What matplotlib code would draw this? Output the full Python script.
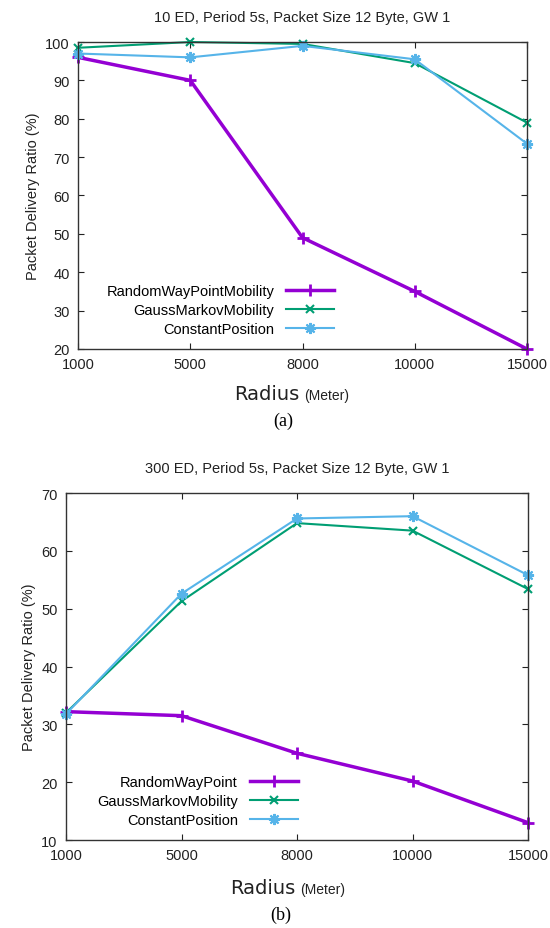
import matplotlib.pyplot as plt

plt.rcParams['font.family'] = ['Liberation Sans', 'DejaVu Sans']

radius = ['1000', '5000', '8000', '10000', '15000']

# 10 ED
rwp_a = [96, 90, 49, 35, 20]
gauss_a = [98.5, 100, 99.5, 94.5, 79]
const_a = [97, 96, 99, 95.5, 73.5]

# 300 ED
rwp_b = [32.2, 31.5, 25, 20.2, 13]
gauss_b = [32.0, 51.3, 64.8, 63.5, 53.4]
const_b = [31.8, 52.6, 65.6, 66.0, 55.8]

purple = '#9400D3'
green = '#009E73'
blue = '#56B4E9'
star = (8, 2, 0)

fig = plt.figure(figsize=(5.5, 9.29), dpi=100)
ax1 = fig.add_axes([0.142, 0.6233, 0.816, 0.3304])
ax2 = fig.add_axes([0.12, 0.0947, 0.84, 0.3735])


def style(ax, names, ylim, yticks, title, legend_anchor):
    x = range(len(radius))
    ax.set_xlim(0, len(radius) - 1)
    ax.set_ylim(*ylim)
    ax.set_yticks(yticks)
    ax.set_xticks(list(x))
    ax.set_xticklabels(radius)
    ax.tick_params(direction='in', top=True, right=True, labelsize=10.5,
                   length=4, colors='#222222', pad=6)
    for s in ax.spines.values():
        s.set_color('#333333')
        s.set_linewidth(1.0)
    ax.set_ylabel('Packet Delivery Ratio (%)', fontsize=10.5, color='#222222')
    ax.set_title(title, fontsize=10.5, color='#222222', pad=15)
    ax.legend(names, loc='lower right', bbox_to_anchor=legend_anchor,
              frameon=False, markerfirst=False, fontsize=10.5,
              handlelength=3.3, labelspacing=0.35, handletextpad=0.8)


x = range(len(radius))
ax1.plot(x, rwp_a, color=purple, lw=2.5, marker='+', ms=8, mew=2, clip_on=False)
ax1.plot(x, gauss_a, color=green, lw=1.5, marker='x', ms=6, mew=1.5, clip_on=False)
ax1.plot(x, const_a, color=blue, lw=1.5, marker=star, ms=8, mew=1.5, clip_on=False)
style(ax1, ['RandomWayPointMobility', 'GaussMarkovMobility', 'ConstantPosition'],
      (20, 100), range(20, 101, 10),
      '10 ED, Period 5s, Packet Size 12 Byte, GW 1', (0.60, 0.0))

ax2.plot(x, rwp_b, color=purple, lw=2.5, marker='+', ms=8, mew=2, clip_on=False)
ax2.plot(x, gauss_b, color=green, lw=1.5, marker='x', ms=6, mew=1.5, clip_on=False)
ax2.plot(x, const_b, color=blue, lw=1.5, marker=star, ms=8, mew=1.5, clip_on=False)
style(ax2, ['RandomWayPoint', 'GaussMarkovMobility', 'ConstantPosition'],
      (10, 70), range(10, 71, 10),
      '300 ED, Period 5s, Packet Size 12 Byte, GW 1', (0.53, 0.0))

# x labels and captions
fig.text(0.545, 1 - 400 / 929, 'Radius', fontsize=14, ha='right', va='baseline',
         family='DejaVu Sans', color='#222222')
fig.text(0.553, 1 - 400 / 929, '(Meter)', fontsize=10, ha='left', va='baseline',
         color='#222222')
fig.text(0.515, 1 - 426 / 929, '(a)', fontsize=13, ha='center', va='baseline',
         family='Liberation Serif')

fig.text(0.537, 1 - 894 / 929, 'Radius', fontsize=14, ha='right', va='baseline',
         family='DejaVu Sans', color='#222222')
fig.text(0.545, 1 - 894 / 929, '(Meter)', fontsize=10, ha='left', va='baseline',
         color='#222222')
fig.text(0.51, 1 - 920 / 929, '(b)', fontsize=13, ha='center', va='baseline',
         family='Liberation Serif')

fig.savefig('out.png', dpi=100)
